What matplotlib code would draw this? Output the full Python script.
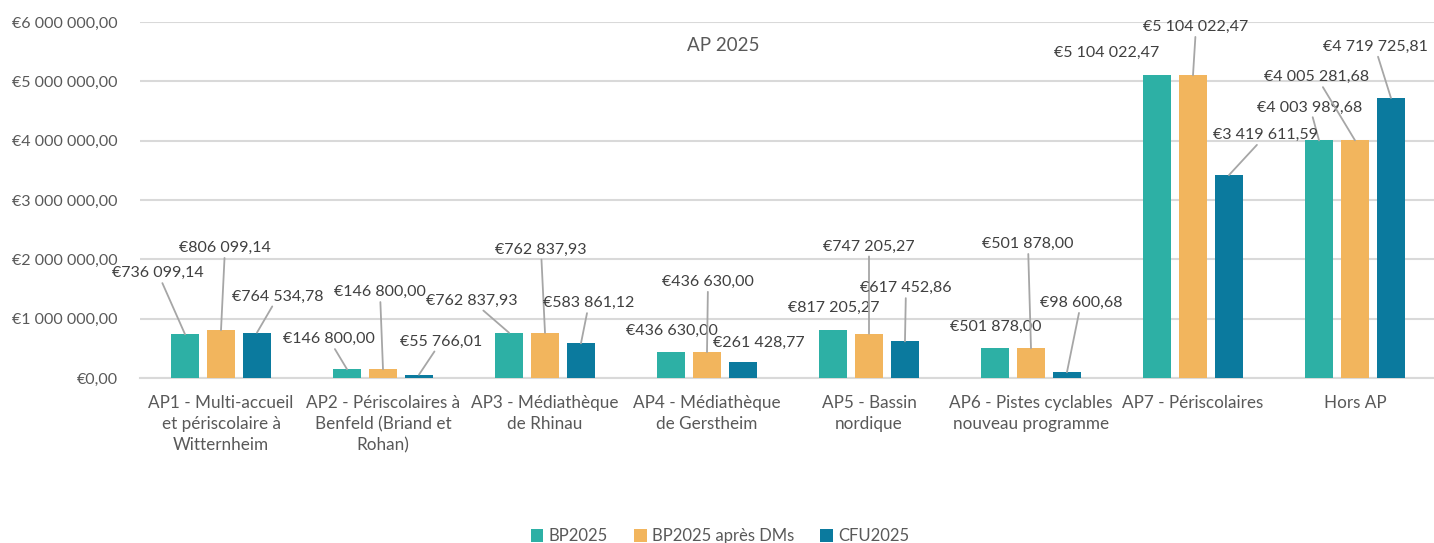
import matplotlib
matplotlib.use('Agg')
import matplotlib.pyplot as plt
import numpy as np
from matplotlib.ticker import FuncFormatter, MultipleLocator

plt.rcParams['font.family'] = ['Lato', 'DejaVu Sans']

# data
categories = ['AP1 - Multi-accueil\net périscolaire à\nWitternheim',
              'AP2 - Périscolaires à\nBenfeld (Briand et\nRohan)',
              'AP3 - Médiathèque\nde Rhinau',
              'AP4 - Médiathèque\nde Gerstheim',
              'AP5 - Bassin\nnordique',
              'AP6 - Pistes cyclables\nnouveau programme',
              'AP7 - Périscolaires',
              'Hors AP']
series_names = ['BP2025', 'BP2025 après DMs', 'CFU2025']
bp2025 = [736099.14, 146800.00, 762837.93, 436630.00, 817205.27, 501878.00, 5104022.47, 4003989.68]
bp2025_dm = [806099.14, 146800.00, 762837.93, 436630.00, 747205.27, 501878.00, 5104022.47, 4005281.68]
cfu2025 = [764534.78, 55766.01, 583861.12, 261428.77, 617452.86, 98600.68, 3419611.59, 4719725.81]

colors = ['#2DB0A5', '#F2B55D', '#0B7A9E']
text_col = '#595959'

# label placement (pixels from bar top) and whether a leader line is drawn
label_off = [
    [(-27, 61, True), (-18, 30, True), (-37, 32, True), (1, 21, False), (1, 22, False), (1, 21, False), (-50, 22, False), (-9, 33, True)],
    [(4, 82, True), (-3, 77, True), (-4, 83, True), (1, 70, True), (0, 87, True), (-3, 104, True), (3, 48, True), (-38, 63, True)],
    [(21, 36, True), (22, 33, True), (8, 40, True), (16, 20, False), (1, 53, True), (14, 69, True), (37, 40, True), (-16, 51, True)],
]


def euro(v, pos=None):
    s = '{:,.2f}'.format(v).replace(',', ' ').replace('.', ',')
    return '€' + s


fig = plt.figure(figsize=(14.34, 5.43), dpi=100)
ax = fig.add_axes([140 / 1434, 1 - 378 / 543, 1296 / 1434, 356 / 543])

x = np.arange(len(categories))
width = 0.173
step = 0.222
all_series = [bp2025, bp2025_dm, cfu2025]

for i, vals in enumerate(all_series):
    xs = x + (i - 1) * step
    ax.bar(xs, vals, width, color=colors[i], label=series_names[i], zorder=3)
    for j, v in enumerate(vals):
        dx, dy, line = label_off[i][j]
        props = None
        if line:
            props = dict(arrowstyle='-', color='#A6A6A6', lw=1.3, shrinkA=0, shrinkB=0)
        ax.annotate(euro(v), xy=(xs[j], v), xytext=(dx, dy), textcoords='offset pixels',
                    ha='center', va='center', fontsize=11.5, color='#404040',
                    arrowprops=props, zorder=4, annotation_clip=False)

ax.set_xlim(-0.5, len(categories) - 0.5)
ax.set_ylim(0, 6000000)
ax.yaxis.set_major_locator(MultipleLocator(1000000))
ax.yaxis.set_major_formatter(FuncFormatter(euro))
ax.grid(axis='y', color='#D9D9D9', lw=1.5, zorder=0)
ax.set_axisbelow(True)
for s in ['top', 'right', 'left']:
    ax.spines[s].set_visible(False)
ax.spines['bottom'].set_color('#D9D9D9')
ax.spines['bottom'].set_linewidth(1.5)
ax.tick_params(length=0)
ax.tick_params(axis='y', labelsize=11.5, labelcolor=text_col, pad=16)
ax.set_xticks(x)
ax.set_xticklabels(categories, fontsize=12.3, color=text_col, linespacing=1.4, va='top')
ax.tick_params(axis='x', pad=12)

ax.text(0.45, 0.935, 'AP 2025', transform=ax.transAxes, ha='center', va='center',
        fontsize=13.5, color=text_col)

fig.legend(loc='lower center', bbox_to_anchor=(0.502, -0.03), ncol=3, frameon=False,
           handlelength=0.75, handleheight=0.75, handletextpad=0.3, columnspacing=1.6,
           fontsize=12, labelcolor=text_col)

fig.savefig('out.png', dpi=100)
